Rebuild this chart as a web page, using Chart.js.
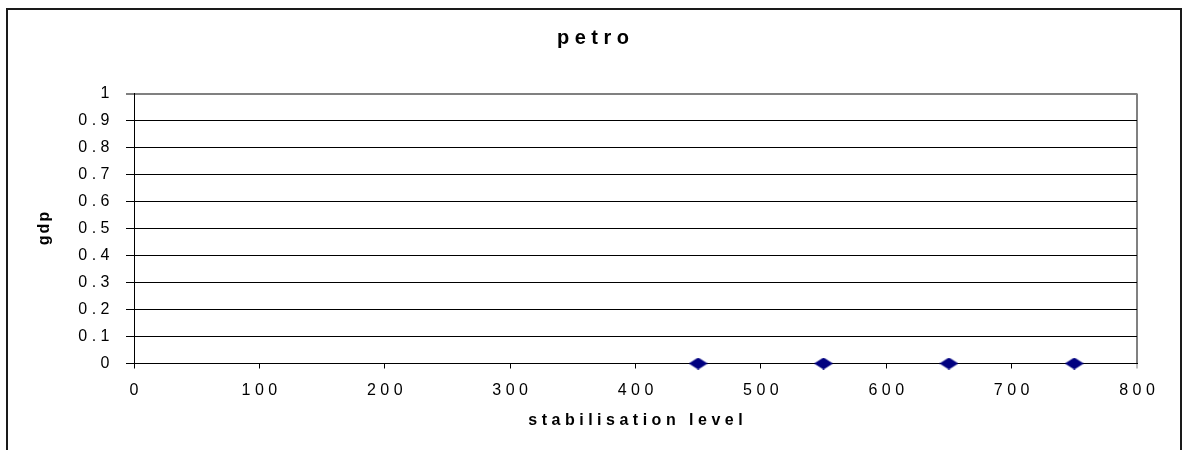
<!DOCTYPE html>
<html>
<head>
<meta charset="utf-8">
<script src="https://cdn.jsdelivr.net/npm/chart.js@4/dist/chart.umd.min.js"></script>
<style>
  html, body { margin: 0; padding: 0; background: #ffffff; }
  #wrap { width: 1186px; height: 450px; }
  canvas { display: block; }
</style>
</head>
<body>
<div id="wrap"><canvas id="chart" width="1186" height="450"></canvas></div>
<script>
// Series: gdp against stabilisation level
const stabilisationLevels = [450, 550, 650, 750];
const gdpValues = [0, 0, 0, 0];

// Axis tick labels
const xTickLabels = ['0', '100', '200', '300', '400', '500', '600', '700', '800'];
const yTickLabels = ['0', '0.1', '0.2', '0.3', '0.4', '0.5', '0.6', '0.7', '0.8', '0.9', '1'];

const FAMILY = "'Liberation Sans', Arial, sans-serif";
const NAVY = '#000080';
const FRAME_GREY = '#808080';

const canvas = document.getElementById('chart');
const ctx = canvas.getContext('2d');

// Widely tracked lettering: spacing depends on the font in use,
// rotated (vertical) text is set a little tighter.
function trackingFor(g) {
  const t = g.getTransform();
  if (Math.abs(t.b) > 0.5) return 2;
  if (/bold 20px/.test(g.font)) return 5.5;
  return 4.5;
}
const baseFillText = ctx.fillText.bind(ctx);
ctx.fillText = function (text, x, y, maxWidth) {
  const s = trackingFor(this);
  const prev = this.letterSpacing;
  this.letterSpacing = s + 'px';
  // keep the inked glyphs aligned as requested despite trailing spacing
  const a = this.textAlign;
  const shift = a === 'center' ? s / 2 : (a === 'right' || a === 'end') ? s : 0;
  if (maxWidth === undefined) baseFillText(text, x + shift, y);
  else baseFillText(text, x + shift, y, maxWidth);
  this.letterSpacing = prev;
};

// Flattened diamond marker
function diamondMarker(w, h, color) {
  const c = document.createElement('canvas');
  c.width = w; c.height = h;
  const g = c.getContext('2d');
  g.fillStyle = color;
  g.beginPath();
  g.moveTo(0, h / 2);
  g.lineTo(w / 2, 0);
  g.lineTo(w, h / 2);
  g.lineTo(w / 2, h);
  g.closePath();
  g.fill();
  return c;
}
const marker = diamondMarker(19, 12, NAVY);

// White page with an outer frame
const framePlugin = {
  id: 'frame',
  beforeDraw(chart) {
    const c = chart.ctx;
    c.save();
    c.fillStyle = '#ffffff';
    c.fillRect(0, 0, chart.width, chart.height);
    c.strokeStyle = '#1a1a1a';
    c.lineWidth = 2;
    c.strokeRect(7, 9, 1174, 480);
    c.restore();
  }
};

new Chart(ctx, {
  type: 'scatter',
  data: {
    datasets: [{
      label: 'gdp',
      data: stabilisationLevels.map((x, i) => ({ x: x, y: gdpValues[i] })),
      pointStyle: marker,
      pointRadius: 9,
      pointHoverRadius: 9,
      showLine: false,
      clip: false
    }]
  },
  options: {
    responsive: false,
    animation: false,
    devicePixelRatio: 1,
    layout: { padding: 0 },
    plugins: {
      legend: { display: false },
      tooltip: { enabled: false },
      title: {
        display: true,
        text: 'petro',
        color: '#000000',
        font: { family: FAMILY, size: 20, weight: 'bold', lineHeight: 1.2 },
        padding: { top: 26.8, bottom: 42.7 }
      }
    },
    scales: {
      x: {
        type: 'linear',
        position: 'bottom',
        min: 0,
        max: 800,
        afterFit(scale) {
          scale.height = 86.5;
          scale.paddingRight = 49;
        },
        ticks: {
          stepSize: 100,
          autoSkip: false,
          maxRotation: 0,
          padding: 12.9,
          color: '#000000',
          font: { family: FAMILY, size: 16, lineHeight: 1.2 },
          callback: (v, i) => xTickLabels[i]
        },
        grid: {
          drawOnChartArea: true,
          color: (c) => (c.tick && c.tick.value === 800) ? FRAME_GREY : 'rgba(0,0,0,0)',
          lineWidth: (c) => (c.tick && c.tick.value === 800) ? 2 : 1,
          tickColor: (c) => (c.tick && c.tick.value === 800) ? FRAME_GREY : '#000000',
          tickLength: 5,
          tickWidth: 1
        },
        border: { display: true, color: '#000000', width: 1 },
        title: {
          display: true,
          text: 'stabilisation level',
          color: '#000000',
          font: { family: FAMILY, size: 16, weight: 'bold', lineHeight: 1.2 },
          padding: { top: 0, bottom: 20.3 }
        }
      },
      y: {
        type: 'linear',
        position: 'left',
        min: 0,
        max: 1,
        afterFit(scale) {
          scale.width = 134;
        },
        ticks: {
          stepSize: 0.1,
          autoSkip: false,
          padding: 16.5,
          color: '#000000',
          font: { family: FAMILY, size: 16, lineHeight: 1.2 },
          callback: (v, i) => yTickLabels[i]
        },
        grid: {
          color: (c) => (c.tick && c.tick.value === 1) ? FRAME_GREY : '#000000',
          lineWidth: (c) => (c.tick && c.tick.value === 1) ? 2 : 1,
          tickColor: '#000000',
          tickLength: 8,
          tickWidth: 1
        },
        border: { display: true, color: '#000000', width: 1 },
        title: {
          display: true,
          text: 'gdp',
          color: '#000000',
          font: { family: FAMILY, size: 16, weight: 'bold', lineHeight: 1.2 },
          padding: { top: 35.4, bottom: 0 }
        }
      }
    }
  },
  plugins: [framePlugin]
});
</script>
</body>
</html>
